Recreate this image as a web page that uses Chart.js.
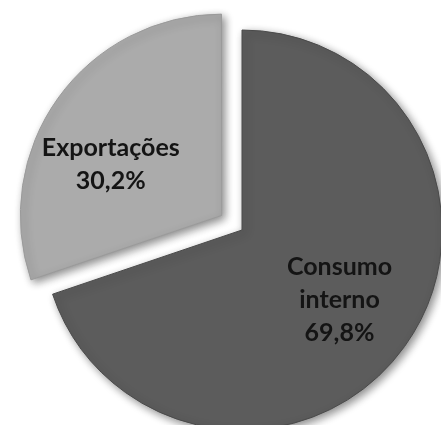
<!DOCTYPE html>
<html>
<head>
<meta charset="utf-8">
<script src="https://cdn.jsdelivr.net/npm/chart.js@4.4.0/dist/chart.umd.min.js"></script>
<style>
    html, body { margin: 0; padding: 0; background: #fff; overflow: hidden; }
    #pie { position: absolute; left: 0; top: 0; }
</style>
</head>
<body>
<canvas id="pie" width="484" height="460"></canvas>
<script>
const labels = ["Consumo interno", "Exportações"];
const shares = [69.8, 30.2];
const labelLines = [["Consumo", "interno"], ["Exportações"]];

const sliceColors = ["#5c5c5c", "#ababab"];
const edgeColors = ["#4a4a4a", "#9a9a9a"];

// soft drop shadow under the slices
const shadowPlugin = {
    id: 'shadow',
    beforeDatasetsDraw(chart) {
        const ctx = chart.ctx;
        ctx.save();
        ctx.shadowColor = 'rgba(0,0,0,0.45)';
        ctx.shadowBlur = 9;
        ctx.shadowOffsetX = 3;
        ctx.shadowOffsetY = 3;
    },
    afterDatasetsDraw(chart) {
        chart.ctx.restore();
    }
};

// text inside each slice, placed from the arc geometry
const sliceLabels = {
    id: 'sliceLabels',
    afterDraw(chart, args, opts) {
        const ctx = chart.ctx;
        const arcs = chart.getDatasetMeta(0).data;
        ctx.save();
        ctx.font = 'bold 25px Lato';
        ctx.fillStyle = '#141414';
        ctx.textAlign = 'center';
        ctx.textBaseline = 'middle';
        arcs.forEach((arc, i) => {
            const p = arc.getProps(['x', 'y', 'startAngle', 'endAngle', 'outerRadius']);
            const mid = (p.startAngle + p.endAngle) / 2;
            const shift = (arc.options.offset || 0) / 4;
            const ang = mid + (opts.angleShift[i] || 0) * Math.PI / 180;
            const r = p.outerRadius * opts.radiusFrac[i];
            const cx = p.x + Math.cos(mid) * shift + Math.cos(ang) * r;
            const cy = p.y + Math.sin(mid) * shift + Math.sin(ang) * r;
            const lines = labelLines[i].concat([shares[i].toFixed(1).replace('.', ',') + '%']);
            const lh = 33;
            const top = cy - (lines.length - 1) * lh / 2;
            lines.forEach((t, k) => ctx.fillText(t, cx, top + k * lh));
        });
        ctx.restore();
    }
};

new Chart(document.getElementById('pie'), {
    type: 'pie',
    data: {
        labels: labels,
        datasets: [{
            data: shares,
            backgroundColor: sliceColors,
            borderColor: edgeColors,
            borderWidth: 1,
            offset: [0, 100]
        }]
    },
    options: {
        responsive: false,
        animation: false,
        radius: 200,
        plugins: {
            legend: { display: false },
            tooltip: { enabled: false },
            sliceLabels: { angleShift: [0, -11], radiusFrac: [0.6, 0.61] }
        }
    },
    plugins: [shadowPlugin, sliceLabels]
});
</script>
</body>
</html>
